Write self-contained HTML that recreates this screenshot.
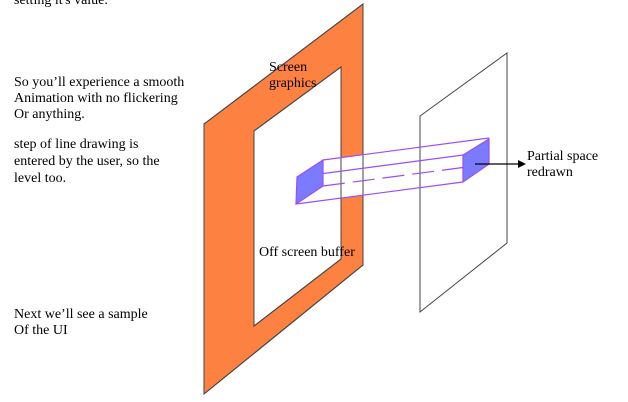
<!DOCTYPE html>
<html><head><meta charset="utf-8"><style>
html,body{margin:0;padding:0;background:#fff;}
svg{display:block;font-family:"Liberation Serif",serif;font-size:14px;}
</style></head><body>
<svg width="628" height="402" viewBox="0 0 628 402">
<g fill="#000">
<text x="14" y="4">setting it's value.</text>
<text x="14" y="86">So you’ll experience a smooth</text>
<text x="14" y="102">Animation with no flickering</text>
<text x="14" y="118">Or anything.</text>
<text x="14" y="148">step of line drawing is</text>
<text x="14" y="165">entered by the user, so the</text>
<text x="14" y="182">level too.</text>
<text x="14" y="318">Next we’ll see a sample</text>
<text x="14" y="334">Of the UI</text>
</g>
<path d="M204,124 L363,4 L363,265 L204,394 Z M254,131 L254,326 L341,259 L341,67 Z" fill="#fd8140" fill-rule="evenodd" stroke="#444" stroke-width="1"/>
<polygon points="297,177 323,160 489,138 489,164 463,182 296,204" fill="#fff"/>
<path d="M204,124 L363,4 L363,265 L204,394 Z M254,131 L254,326 L341,259 L341,67 Z" fill="none" stroke="#444" stroke-width="1"/>
<polygon points="420,116 507,53 507,243 420,312" fill="none" stroke="#444" stroke-width="1"/>
<g stroke="#9a4dff" stroke-width="1.2" fill="none">
<line x1="323" y1="160" x2="489" y2="138"/>
<line x1="297" y1="177" x2="463" y2="155"/>
<line x1="296" y1="204" x2="463" y2="182"/>
<line x1="323" y1="186" x2="489" y2="164" stroke-dasharray="22,8"/>
<polygon points="297,177 323,160 323,186 296,204" fill="#7b7bff"/>
<polygon points="463,155 489,139 489,164 463,182" fill="#7b7bff"/>
</g>
<line x1="475" y1="164" x2="520" y2="164" stroke="#000" stroke-width="1.2"/>
<polygon points="526,164 518,160 518,168" fill="#000"/>
<text x="527" y="160">Partial space</text>
<text x="527" y="176">redrawn</text>
<text x="269" y="71">Screen</text>
<text x="269" y="87">graphics</text>
<text x="259" y="256">Off screen buffer</text>
</svg>
</body></html>
